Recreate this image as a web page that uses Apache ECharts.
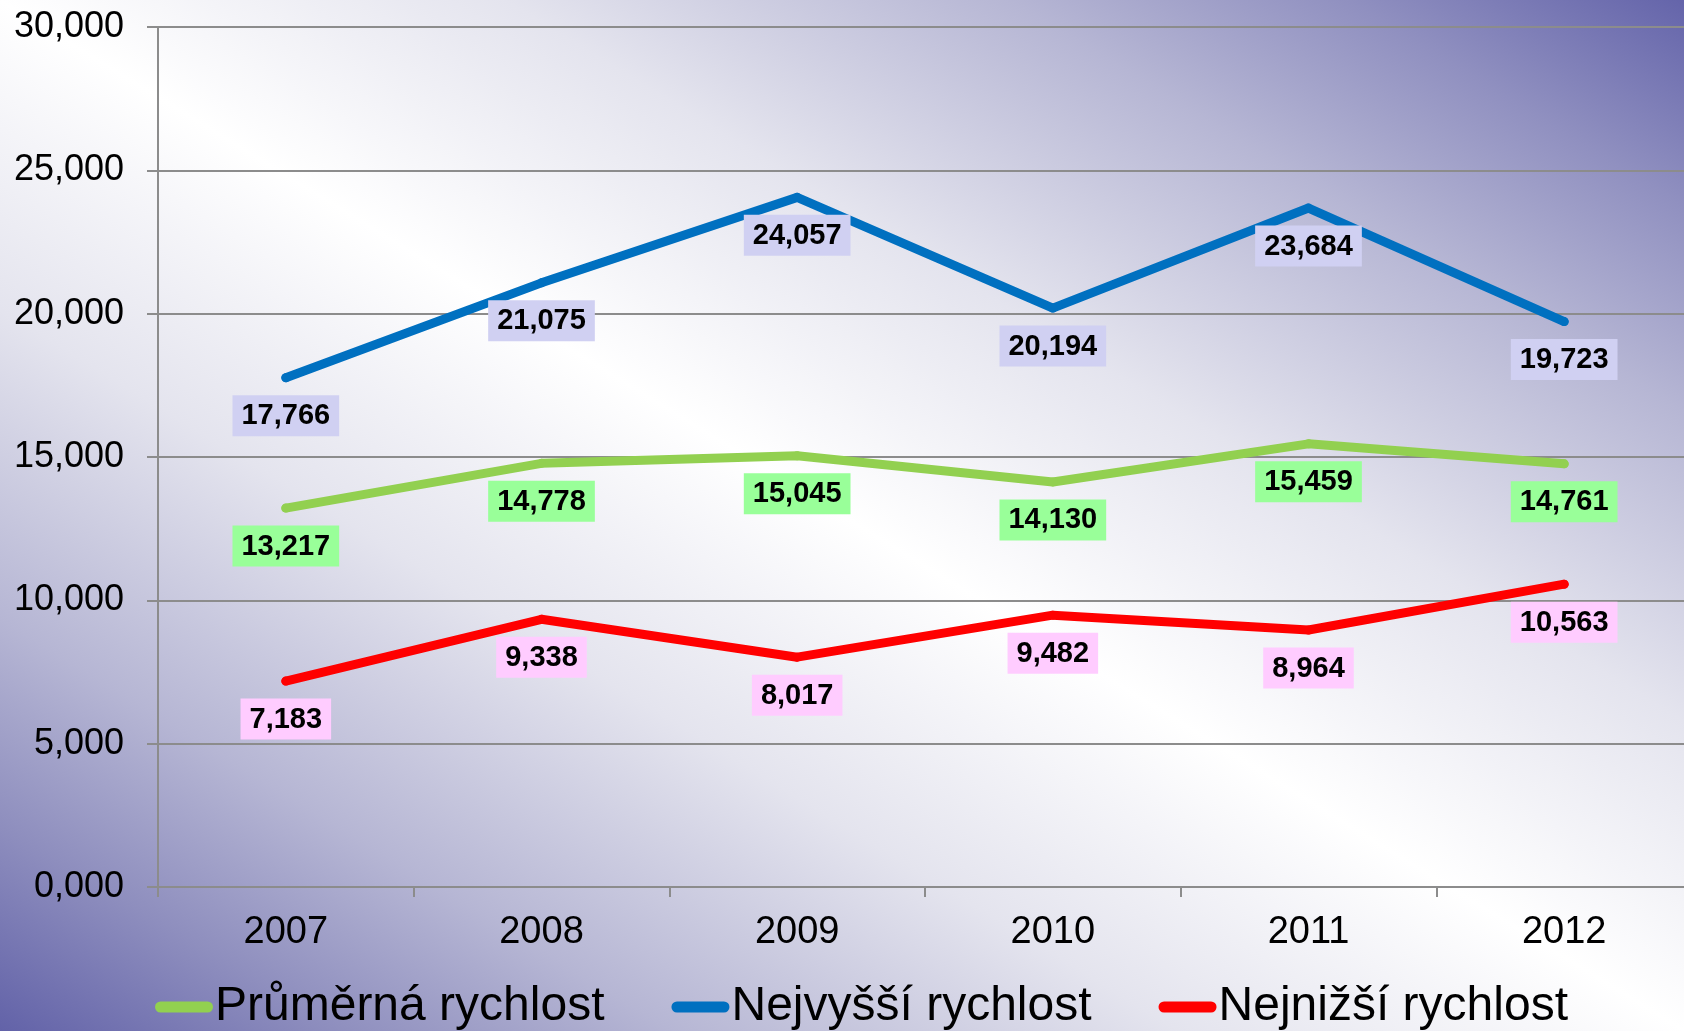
<!DOCTYPE html>
<html>
<head>
<meta charset="utf-8">
<title>Rychlost</title>
<script src="https://cdn.jsdelivr.net/npm/echarts@6/dist/echarts.min.js"></script>
<style>
    html, body { margin: 0; padding: 0; }
    #container { width: 1684px; height: 1031px; }
</style>
</head>
<body>
<div id="container"></div>
<script>
// roky na ose x
var roky = ['2007', '2008', '2009', '2010', '2011', '2012'];
// hodnoty jednotlivých řad
var prumerna = [13.217, 14.778, 15.045, 14.130, 15.459, 14.761];
var nejvyssi = [17.766, 21.075, 24.057, 20.194, 23.684, 19.723];
var nejnizsi = [7.183, 9.338, 8.017, 9.482, 8.964, 10.563];
// popisky osy y
var osaY = [0, 5, 10, 15, 20, 25, 30];

// číslo s desetinnou čárkou
function carka(v) {
    return v.toFixed(3).replace('.', ',');
}

function rada(name, data, color, labelBg) {
    return {
        name: name,
        type: 'line',
        data: data,
        symbol: 'circle',
        symbolSize: 9,
        itemStyle: { color: color },
        lineStyle: { color: color, width: 9, cap: 'round', join: 'round' },
        label: {
            show: true,
            position: 'bottom',
            distance: 13,
            formatter: function (p) { return carka(p.value); },
            fontFamily: 'Liberation Sans',
            fontWeight: 'bold',
            fontSize: 29,
            lineHeight: 30,
            color: '#000',
            backgroundColor: labelBg,
            padding: [6, 9, 5, 9]
        }
    };
}

var dom = document.getElementById('container');
var myChart = echarts.init(dom);
var option = {
    animation: false,
    // pozadí: bílý pruh po hlavní diagonále, fialové rohy vpravo nahoře a vlevo dole
    backgroundColor: {
        type: 'linear',
        global: true,
        x: 383, y: 1266, x2: 1301, y2: -235,
        colorStops: [
            { offset: 0, color: '#6262a8' },
            { offset: 0.1, color: '#8e8ebe' },
            { offset: 0.2, color: '#b6b6d4' },
            { offset: 0.35, color: '#e4e4ee' },
            { offset: 0.5, color: '#ffffff' },
            { offset: 0.65, color: '#e4e4ee' },
            { offset: 0.8, color: '#b6b6d4' },
            { offset: 0.9, color: '#9090c0' },
            { offset: 1, color: '#6464aa' }
        ]
    },
    grid: {
        left: 158,
        width: 1534,
        top: 27,
        bottom: 144,
        outerBoundsMode: 'none'
    },
    legend: {
        left: 150,
        top: 978,
        itemWidth: 58,
        itemHeight: 11,
        itemGap: 67,
        icon: 'path://M5.5,0 L52.5,0 A5.5,5.5 0 0 1 52.5,11 L5.5,11 A5.5,5.5 0 0 1 5.5,0 Z',
        textStyle: {
            fontFamily: 'Liberation Sans',
            fontSize: 48,
            color: '#000',
            padding: [0, 0, 0, -3]
        },
        data: ['Průměrná rychlost', 'Nejvyšší rychlost', 'Nejnižší rychlost']
    },
    xAxis: {
        type: 'category',
        data: roky,
        boundaryGap: true,
        axisLine: { lineStyle: { color: '#8c8c8c', width: 2 } },
        axisTick: { show: true, length: 10, lineStyle: { color: '#8c8c8c', width: 2 } },
        axisLabel: {
            margin: 27,
            fontFamily: 'Liberation Sans',
            fontSize: 38,
            color: '#000'
        }
    },
    yAxis: {
        type: 'value',
        min: osaY[0],
        max: osaY[osaY.length - 1],
        interval: 5,
        axisLine: { show: true, lineStyle: { color: '#8c8c8c', width: 2 } },
        axisTick: { show: true, length: 11, lineStyle: { color: '#8c8c8c', width: 2 } },
        splitLine: { lineStyle: { color: '#8c8c8c', width: 2 } },
        axisLabel: {
            margin: 34,
            fontFamily: 'Liberation Sans',
            fontSize: 36,
            color: '#000',
            formatter: function (v) { return carka(v); }
        }
    },
    series: [
        rada('Průměrná rychlost', prumerna, '#92d050', '#99ff99'),
        rada('Nejvyšší rychlost', nejvyssi, '#0070c0', '#d0d0f2'),
        rada('Nejnižší rychlost', nejnizsi, '#ff0000', '#ffccff')
    ]
};
myChart.setOption(option, true);
</script>
</body>
</html>
